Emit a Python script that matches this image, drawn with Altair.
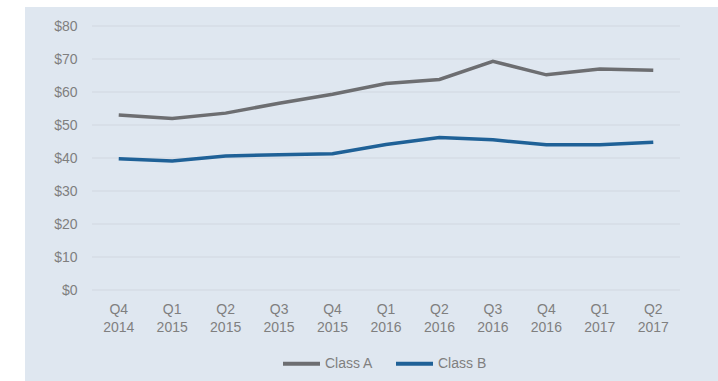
import altair as alt
import pandas as pd

quarters = ["Q4 2014", "Q1 2015", "Q2 2015", "Q3 2015", "Q4 2015", "Q1 2016",
            "Q2 2016", "Q3 2016", "Q4 2016", "Q1 2017", "Q2 2017"]
class_a = [53.0, 52.0, 53.6, 56.6, 59.3, 62.6, 63.8, 69.3, 65.2, 67.0, 66.6]
class_b = [39.8, 39.1, 40.6, 41.0, 41.3, 44.1, 46.2, 45.5, 44.0, 44.0, 44.8]
series = ["Class A", "Class B"]
colors = ["#6d6e71", "#1f6197"]
y_ticks = [0, 10, 20, 30, 40, 50, 60, 70, 80]

rows = []
for q, a, b in zip(quarters, class_a, class_b):
    rows.append({"quarter": q, "series": series[0], "value": a})
    rows.append({"quarter": q, "series": series[1], "value": b})
df = pd.DataFrame(rows)
grid_df = pd.DataFrame({"value": y_ticks})

FONT = "Liberation Sans"
TXT = "#7f7f7f"

y_scale = alt.Scale(domain=[0, 80], nice=False)
y_axis = alt.Axis(title=None, values=y_ticks, format="$,.0f",
                  labelFont=FONT, labelFontSize=14, labelColor=TXT, labelPadding=15,
                  labelOverlap=False, ticks=False, domain=False, grid=False, zindex=1)

bg = alt.Chart(pd.DataFrame({"a": [0]})).mark_rect(color="#dfe7f0").encode(
    x=alt.value(-67), x2=alt.value(626), y=alt.value(-19), y2=alt.value(355)
)

grid = alt.Chart(grid_df).mark_rule(color="#d1d7df", strokeWidth=1.2).encode(
    y=alt.Y("value:Q", scale=y_scale, axis=y_axis),
    x=alt.value(0), x2=alt.value(588),
)

lines = alt.Chart(df).mark_line(strokeWidth=3.5).encode(
    x=alt.X("quarter:N", sort=quarters, scale=alt.Scale(type="band", paddingInner=0, paddingOuter=0),
            axis=alt.Axis(title=None, labelAngle=0, labelExpr="split(datum.label, ' ')",
                          labelFont=FONT, labelFontSize=14, labelColor=TXT, labelPadding=12,
                          labelLineHeight=18, ticks=False, domain=False, grid=False,
                          labelOverlap=False, bandPosition=0.5, zindex=1)),
    y=alt.Y("value:Q", scale=y_scale, axis=y_axis),
    color=alt.Color("series:N", scale=alt.Scale(domain=series, range=colors),
                    legend=alt.Legend(title=None, orient="none", legendX=189, legendY=317,
                                      direction="horizontal", symbolType="stroke",
                                      symbolSize=1369, symbolStrokeWidth=4,
                                      labelFont=FONT, labelFontSize=14, labelColor=TXT,
                                      labelOffset=3, columnPadding=14)),
)

chart = alt.layer(bg, grid, lines).properties(
    width=588, height=264,
    padding={"left": 92, "top": 26, "right": 38, "bottom": 91},
    autosize=alt.AutoSizeParams(type="none"),
    background="white",
).configure_view(stroke=None)

chart.save("out.html", embed_options={"renderer": "svg", "actions": False})
